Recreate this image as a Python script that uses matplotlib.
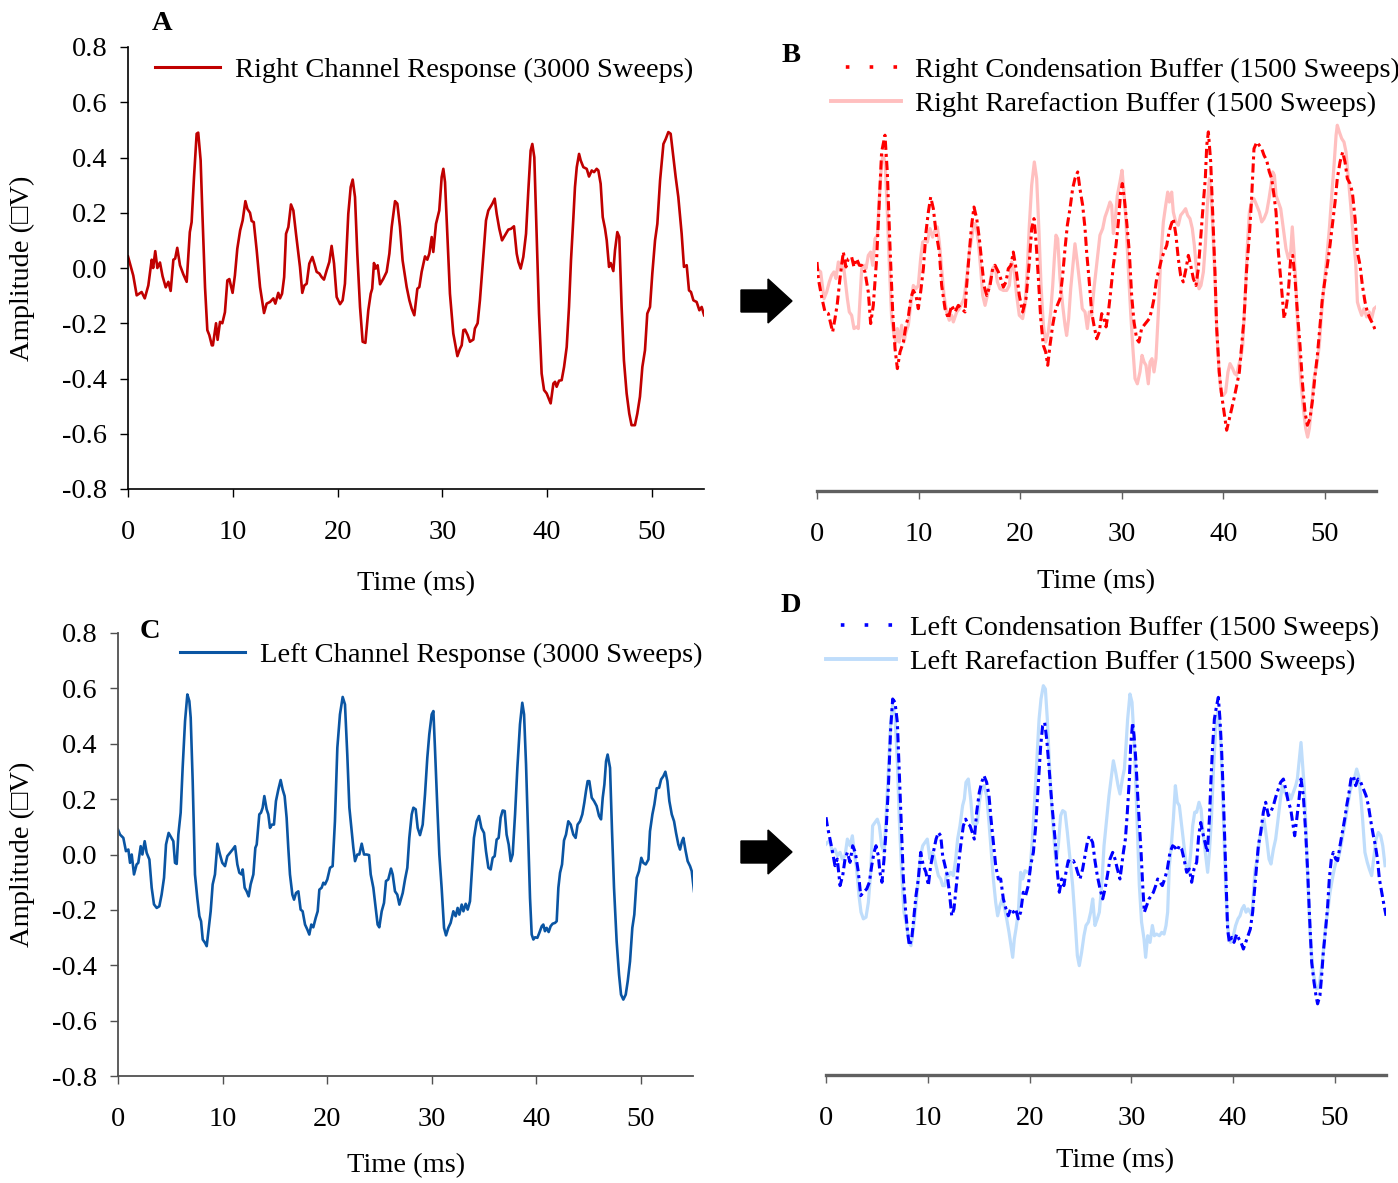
import numpy as np
import matplotlib
matplotlib.use("Agg")
import matplotlib.pyplot as plt
from matplotlib.lines import Line2D
from matplotlib.patches import Polygon

plt.rcParams['font.family'] = ['Liberation Serif', 'DejaVu Sans']

# ---------------- data (time ms, amplitude uV) ----------------
right_avg = [(0,0.042),(0.5,-0.027),(0.83,-0.099),(1.3,-0.087),(1.6,-0.11),(1.94,-0.063),(2.26,0.03),(2.4,0.0),(2.6,0.061),(2.8,0.0),(3.05,0.02),(3.3,-0.03),(3.6,-0.07),(3.85,-0.05),(4.07,-0.083),(4.33,0.03),(4.5,0.034),(4.7,0.073),(4.96,0.01),(5.28,-0.023),(5.6,-0.05),(5.9,0.13),(6.07,0.166),(6.3,0.33),(6.55,0.486),(6.7,0.49),(6.93,0.39),(7.1,0.196),(7.35,-0.07),(7.57,-0.225),(7.76,-0.243),(8.0,-0.28),(8.1,-0.28),(8.4,-0.2),(8.55,-0.26),(8.78,-0.195),(9.0,-0.2),(9.25,-0.16),(9.48,-0.045),(9.67,-0.04),(9.98,-0.09),(10.2,-0.027),(10.43,0.07),(10.7,0.136),(10.94,0.172),(11.2,0.242),(11.39,0.214),(11.64,0.2),(11.8,0.17),(12.0,0.166),(12.28,0.064),(12.6,-0.069),(12.98,-0.163),(13.23,-0.129),(13.55,-0.123),(13.87,-0.11),(14.06,-0.129),(14.34,-0.09),(14.5,-0.11),(14.7,-0.093),(14.9,-0.033),(15.08,0.124),(15.3,0.148),(15.55,0.23),(15.78,0.208),(16.03,0.124),(16.41,0.004),(16.63,-0.09),(16.83,-0.063),(17.05,-0.057),(17.3,0.016),(17.59,0.04),(17.78,0.016),(18.0,-0.014),(18.26,-0.02),(18.48,-0.033),(18.7,-0.042),(18.96,-0.008),(19.21,0.022),(19.43,0.08),(19.66,0.016),(19.91,-0.105),(20.23,-0.131),(20.48,-0.117),(20.7,-0.057),(21.02,0.196),(21.25,0.293),(21.44,0.32),(21.66,0.257),(21.88,0.052),(22.14,-0.141),(22.39,-0.267),(22.65,-0.271),(22.93,-0.153),(23.16,-0.093),(23.3,-0.075),(23.47,0.018),(23.63,-0.002),(23.82,0.01),(24.05,-0.059),(24.36,-0.039),(24.68,-0.014),(24.94,0.052),(25.16,0.148),(25.48,0.242),(25.7,0.233),(25.95,0.15),(26.2,0.028),(26.59,-0.069),(26.85,-0.117),(27.07,-0.147),(27.32,-0.171),(27.61,-0.075),(27.8,-0.069),(28.02,-0.014),(28.34,0.042),(28.56,0.03),(28.75,0.052),(28.98,0.112),(29.13,0.058),(29.39,0.16),(29.7,0.208),(29.93,0.329),(30.09,0.359),(30.25,0.311),(30.47,0.124),(30.72,-0.093),(31.04,-0.237),(31.43,-0.319),(31.68,-0.292),(31.84,-0.28),(32.0,-0.225),(32.16,-0.223),(32.41,-0.243),(32.63,-0.267),(32.95,-0.259),(33.1,-0.219),(33.36,-0.2),(33.58,-0.117),(33.78,-0.02),(33.97,0.076),(34.16,0.172),(34.38,0.208),(34.61,0.223),(34.77,0.233),(34.99,0.251),(35.18,0.196),(35.43,0.142),(35.69,0.1),(35.97,0.118),(36.29,0.139),(36.55,0.142),(36.83,0.151),(37.09,0.052),(37.25,0.022),(37.47,-0.002),(37.72,0.04),(37.98,0.124),(38.2,0.281),(38.42,0.425),(38.58,0.449),(38.77,0.401),(38.99,0.124),(39.22,-0.165),(39.47,-0.382),(39.7,-0.442),(39.95,-0.454),(40.14,-0.472),(40.33,-0.49),(40.59,-0.418),(40.75,-0.412),(40.9,-0.43),(41.13,-0.408),(41.38,-0.406),(41.61,-0.358),(41.86,-0.286),(42.08,-0.141),(42.27,0.028),(42.5,0.184),(42.65,0.293),(42.82,0.365),(43.04,0.413),(43.2,0.389),(43.45,0.365),(43.77,0.359),(43.99,0.331),(44.25,0.353),(44.47,0.347),(44.72,0.359),(44.88,0.353),(45.1,0.305),(45.3,0.184),(45.52,0.142),(45.68,0.1),(45.9,0.004),(46.06,0.018),(46.31,-0.011),(46.47,0.064),(46.69,0.13),(46.88,0.112),(47.1,-0.141),(47.32,-0.334),(47.58,-0.454),(47.83,-0.527),(48.05,-0.569),(48.37,-0.569),(48.6,-0.527),(48.85,-0.466),(49.08,-0.358),(49.33,-0.298),(49.55,-0.165),(49.81,-0.141),(50.03,-0.02),(50.29,0.1),(50.51,0.16),(50.77,0.317),(51.09,0.449),(51.31,0.467),(51.56,0.492),(51.78,0.486),(52.04,0.401),(52.26,0.329),(52.51,0.257),(52.83,0.124),(53.05,0.004),(53.31,0.01),(53.53,-0.081),(53.72,-0.087),(53.95,-0.117),(54.26,-0.123),(54.52,-0.153),(54.74,-0.141),(54.97,-0.171)]

right_cond = [(0,0.029),(0.13,-0.031),(0.46,-0.098),(0.79,-0.152),(1.12,-0.158),(1.54,-0.224),(1.77,-0.176),(2.0,-0.122),(2.26,-0.031),(2.59,0.065),(2.85,0.011),(3.08,0.041),(3.41,0.047),(3.64,0.011),(3.9,0.041),(4.17,0.017),(4.4,0.017),(4.72,-0.007),(5.05,-0.08),(5.28,-0.194),(5.54,-0.128),(5.87,0.041),(6.13,0.246),(6.36,0.427),(6.69,0.488),(6.92,0.355),(7.18,0.089),(7.45,-0.152),(7.68,-0.285),(7.91,-0.357),(8.17,-0.297),(8.5,-0.261),(8.76,-0.2),(8.99,-0.17),(9.22,-0.104),(9.48,-0.074),(9.74,-0.092),(9.97,-0.14),(10.2,-0.08),(10.47,0.005),(10.73,0.138),(10.96,0.21),(11.19,0.264),(11.45,0.222),(11.71,0.138),(12.04,0.065),(12.27,-0.056),(12.6,-0.14),(12.93,-0.176),(13.25,-0.128),(13.58,-0.152),(13.91,-0.128),(14.24,-0.14),(14.57,-0.152),(14.73,-0.056),(14.99,0.065),(15.22,0.162),(15.45,0.228),(15.72,0.186),(15.98,0.113),(16.21,0.029),(16.44,-0.056),(16.7,-0.092),(17.03,-0.056),(17.29,0.005),(17.52,0.017),(17.85,-0.007),(18.08,-0.031),(18.34,-0.062),(18.6,-0.043),(18.83,0.005),(19.09,0.017),(19.32,0.065),(19.59,0.005),(19.91,-0.092),(20.24,-0.152),(20.57,-0.104),(20.9,0.029),(21.13,0.15),(21.36,0.186),(21.56,0.101),(21.79,-0.031),(22.02,-0.176),(22.28,-0.273),(22.51,-0.297),(22.71,-0.345),(22.93,-0.273),(23.2,-0.2),(23.43,-0.152),(23.65,-0.128),(23.92,-0.104),(24.18,-0.019),(24.41,0.077),(24.64,0.162),(24.9,0.222),(25.16,0.294),(25.39,0.331),(25.66,0.355),(25.88,0.294),(26.15,0.234),(26.38,0.15),(26.54,0.065),(26.77,-0.031),(27.03,-0.152),(27.26,-0.2),(27.53,-0.249),(27.79,-0.224),(28.02,-0.158),(28.25,-0.176),(28.45,-0.206),(28.68,-0.152),(28.9,-0.08),(29.17,0.017),(29.43,0.089),(29.66,0.174),(29.89,0.282),(30.05,0.313),(30.25,0.258),(30.48,0.174),(30.74,0.065),(30.97,-0.092),(31.2,-0.188),(31.46,-0.249),(31.69,-0.261),(31.95,-0.212),(32.19,-0.2),(32.45,-0.188),(32.71,-0.176),(32.94,-0.146),(33.17,-0.104),(33.43,-0.031),(33.69,0.005),(33.92,0.041),(34.15,0.065),(34.42,0.089),(34.65,0.138),(34.84,0.162),(35.07,0.186),(35.33,0.126),(35.56,0.041),(35.79,-0.019),(36.05,-0.043),(36.32,0.005),(36.55,0.053),(36.78,0.017),(37.04,-0.031),(37.3,-0.056),(37.53,0.005),(37.76,0.113),(38.03,0.246),(38.22,0.331),(38.36,0.451),(38.52,0.5),(38.75,0.391),(38.94,0.21),(39.17,-0.007),(39.34,-0.212),(39.59,-0.369),(39.83,-0.454),(40.06,-0.514),(40.32,-0.58),(40.59,-0.538),(40.81,-0.502),(41.04,-0.466),(41.31,-0.418),(41.57,-0.369),(41.8,-0.273),(42.03,-0.176),(42.29,0.005),(42.56,0.126),(42.79,0.27),(43.01,0.439),(43.28,0.463),(43.54,0.451),(43.77,0.439),(44.0,0.415),(44.26,0.397),(44.52,0.355),(44.75,0.331),(44.98,0.27),(45.18,0.21),(45.41,0.065),(45.64,-0.031),(45.84,-0.116),(45.97,-0.176),(46.16,-0.14),(46.39,-0.08),(46.62,0.041),(46.82,0.053),(47.05,-0.031),(47.28,-0.152),(47.54,-0.273),(47.8,-0.418),(48.03,-0.514),(48.26,-0.562),(48.52,-0.538),(48.79,-0.466),(49.02,-0.381),(49.25,-0.309),(49.51,-0.2),(49.74,-0.104),(49.97,-0.043),(50.23,0.017),(50.49,0.089),(50.76,0.174),(50.99,0.246),(51.21,0.331),(51.48,0.391),(51.74,0.427),(51.97,0.391),(52.2,0.331),(52.46,0.313),(52.69,0.282),(52.96,0.186),(53.19,0.065),(53.45,0.017),(53.68,-0.056),(53.94,-0.116),(54.17,-0.152),(54.43,-0.176),(54.69,-0.194),(55.02,-0.224)]

right_rare = [(0,0.005),(0.36,-0.007),(0.69,-0.104),(0.95,-0.08),(1.21,-0.043),(1.44,-0.019),(1.67,-0.007),(1.87,-0.031),(2.1,0.029),(2.33,0.005),(2.53,0.041),(2.76,-0.031),(2.99,-0.104),(3.18,-0.152),(3.41,-0.164),(3.64,-0.212),(3.9,-0.206),(4.07,-0.212),(4.23,-0.104),(4.4,0.005),(4.63,0.017),(4.82,0.005),(5.05,0.053),(5.28,0.065),(5.48,0.017),(5.71,0.113),(5.94,0.126),(6.13,0.258),(6.36,0.391),(6.53,0.415),(6.72,0.379),(6.92,0.21),(7.12,0.017),(7.35,-0.176),(7.58,-0.237),(7.78,-0.261),(7.91,-0.212),(8.1,-0.261),(8.33,-0.2),(8.56,-0.261),(8.76,-0.224),(8.99,-0.2),(9.22,-0.128),(9.48,-0.056),(9.74,-0.068),(9.97,-0.056),(10.2,0.041),(10.4,0.101),(10.63,0.107),(10.86,0.101),(11.12,0.15),(11.38,0.119),(11.61,0.144),(11.84,0.156),(12.04,0.101),(12.27,0.005),(12.5,-0.092),(12.76,-0.152),(13.02,-0.182),(13.25,-0.164),(13.42,-0.188),(13.75,-0.152),(14.01,-0.14),(14.24,-0.122),(14.47,-0.104),(14.73,-0.031),(14.99,0.065),(15.22,0.113),(15.45,0.168),(15.65,0.162),(15.88,0.101),(16.11,0.005),(16.31,-0.092),(16.54,-0.128),(16.77,-0.092),(17.03,-0.043),(17.29,0.005),(17.52,0.017),(17.75,-0.043),(18.01,-0.068),(18.34,-0.074),(18.67,-0.074),(18.93,-0.056),(19.16,0.029),(19.39,0.005),(19.65,-0.092),(19.91,-0.164),(20.24,-0.176),(20.47,-0.128),(20.7,0.005),(20.9,0.162),(21.13,0.307),(21.39,0.391),(21.62,0.331),(21.85,0.138),(22.05,-0.056),(22.28,-0.2),(22.51,-0.261),(22.77,-0.224),(23.0,-0.152),(23.2,-0.056),(23.36,0.041),(23.52,0.126),(23.69,0.113),(23.92,-0.031),(24.18,-0.128),(24.41,-0.2),(24.57,-0.237),(24.77,-0.176),(24.97,-0.068),(25.16,0.005),(25.39,0.095),(25.62,0.029),(25.88,-0.056),(26.11,-0.14),(26.38,-0.152),(26.61,-0.212),(26.8,-0.152),(27.03,-0.164),(27.26,-0.068),(27.52,0.017),(27.85,0.126),(28.12,0.15),(28.35,0.192),(28.58,0.216),(28.84,0.246),(29.0,0.234),(29.17,0.132),(29.33,0.174),(29.56,0.27),(29.82,0.319),(30.02,0.361),(30.22,0.282),(30.41,0.174),(30.64,0.005),(30.87,-0.152),(31.07,-0.273),(31.3,-0.393),(31.53,-0.412),(31.79,-0.369),(31.99,-0.309),(32.19,-0.333),(32.38,-0.345),(32.61,-0.412),(32.78,-0.333),(32.97,-0.321),(33.17,-0.369),(33.36,-0.321),(33.6,-0.152),(33.83,0.041),(34.09,0.174),(34.32,0.234),(34.52,0.282),(34.68,0.246),(34.91,0.282),(35.07,0.21),(35.3,0.174),(35.56,0.162),(35.79,0.198),(36.05,0.21),(36.28,0.222),(36.48,0.198),(36.71,0.186),(36.94,0.15),(37.14,0.089),(37.37,-0.007),(37.6,-0.068),(37.79,-0.056),(38.03,-0.007),(38.22,0.089),(38.42,0.234),(38.62,0.331),(38.78,0.282),(38.94,0.162),(39.17,-0.031),(39.34,-0.212),(39.57,-0.369),(39.76,-0.442),(39.99,-0.454),(40.22,-0.442),(40.45,-0.369),(40.65,-0.339),(40.91,-0.357),(41.11,-0.375),(41.31,-0.381),(41.5,-0.345),(41.7,-0.321),(41.9,-0.273),(42.13,-0.104),(42.36,0.089),(42.56,0.21),(42.79,0.246),(43.01,0.258),(43.28,0.234),(43.54,0.21),(43.77,0.174),(44.0,0.186),(44.26,0.21),(44.49,0.258),(44.69,0.307),(44.85,0.355),(45.02,0.343),(45.18,0.27),(45.41,0.246),(45.64,0.222),(45.9,0.15),(46.16,0.077),(46.39,0.041),(46.62,0.065),(46.78,0.156),(46.95,0.065),(47.14,-0.056),(47.37,-0.249),(47.6,-0.393),(47.87,-0.502),(48.1,-0.574),(48.29,-0.605),(48.46,-0.574),(48.69,-0.49),(48.92,-0.393),(49.18,-0.345),(49.44,-0.273),(49.67,-0.152),(49.9,-0.056),(50.16,0.041),(50.43,0.15),(50.66,0.27),(50.89,0.379),(51.09,0.488),(51.21,0.524),(51.41,0.5),(51.64,0.476),(51.87,0.463),(52.07,0.427),(52.3,0.331),(52.53,0.234),(52.79,0.113),(53.02,0.029),(53.19,-0.116),(53.38,-0.14),(53.61,-0.164),(53.84,-0.14),(54.1,-0.17),(54.36,-0.152),(54.59,-0.176),(54.82,-0.14),(55.02,-0.134)]

left_avg = [(0,0.09),(0.19,0.072),(0.51,0.06),(0.76,0.012),(0.99,0.018),(1.15,-0.03),(1.31,0.0),(1.53,-0.072),(1.78,-0.036),(1.94,-0.03),(2.17,0.03),(2.33,0.0),(2.55,0.048),(2.74,0.006),(3.0,-0.018),(3.22,-0.12),(3.44,-0.18),(3.7,-0.193),(3.95,-0.187),(4.17,-0.145),(4.4,-0.084),(4.59,0.036),(4.84,0.078),(5.07,0.063),(5.29,0.048),(5.45,-0.03),(5.61,-0.034),(5.77,0.072),(5.99,0.151),(6.18,0.313),(6.41,0.482),(6.63,0.578),(6.82,0.554),(6.95,0.494),(7.14,0.265),(7.36,-0.072),(7.58,-0.157),(7.78,-0.223),(7.94,-0.241),(8.1,-0.307),(8.32,-0.319),(8.48,-0.331),(8.64,-0.277),(8.86,-0.205),(9.05,-0.108),(9.27,-0.072),(9.5,0.039),(9.75,0.0),(9.97,-0.03),(10.23,-0.042),(10.45,-0.006),(10.71,0.006),(10.96,0.018),(11.19,0.03),(11.41,-0.036),(11.6,-0.066),(11.82,-0.072),(11.92,-0.054),(12.11,-0.12),(12.3,-0.133),(12.49,-0.151),(12.68,-0.108),(12.94,-0.072),(13.13,0.024),(13.26,0.036),(13.51,0.145),(13.67,0.151),(13.83,0.169),(13.99,0.211),(14.21,0.163),(14.37,0.145),(14.53,0.096),(14.72,0.108),(14.91,0.108),(15.1,0.193),(15.33,0.235),(15.55,0.269),(15.74,0.235),(15.93,0.211),(16.12,0.133),(16.28,0.024),(16.44,-0.072),(16.67,-0.145),(16.83,-0.163),(17.02,-0.139),(17.24,-0.133),(17.46,-0.199),(17.65,-0.205),(17.88,-0.253),(18.1,-0.271),(18.29,-0.289),(18.48,-0.253),(18.67,-0.263),(18.9,-0.229),(19.09,-0.205),(19.25,-0.127),(19.47,-0.12),(19.63,-0.102),(19.79,-0.108),(20.01,-0.09),(20.27,-0.048),(20.52,-0.042),(20.74,0.12),(20.97,0.386),(21.22,0.506),(21.48,0.569),(21.7,0.542),(21.92,0.361),(22.12,0.169),(22.34,0.084),(22.5,0.024),(22.66,-0.024),(22.88,0.0),(23.07,0.0),(23.3,0.039),(23.52,0.0),(23.77,0.0),(24.0,-0.002),(24.16,-0.072),(24.41,-0.12),(24.63,-0.193),(24.82,-0.253),(24.98,-0.263),(25.21,-0.205),(25.43,-0.175),(25.62,-0.096),(25.84,-0.09),(26.1,-0.051),(26.26,-0.072),(26.48,-0.133),(26.7,-0.145),(26.9,-0.181),(27.22,-0.139),(27.44,-0.09),(27.66,-0.048),(27.85,0.06),(28.08,0.145),(28.24,0.169),(28.46,0.163),(28.65,0.096),(28.87,0.07),(29.13,0.108),(29.35,0.217),(29.57,0.349),(29.76,0.434),(29.99,0.506),(30.15,0.518),(30.3,0.386),(30.53,0.169),(30.72,0.0),(30.94,-0.12),(31.17,-0.265),(31.36,-0.292),(31.58,-0.265),(31.8,-0.247),(32.06,-0.205),(32.28,-0.223),(32.47,-0.193),(32.63,-0.217),(32.86,-0.181),(33.02,-0.205),(33.24,-0.178),(33.43,-0.199),(33.65,-0.169),(33.81,-0.072),(34.03,0.06),(34.29,0.12),(34.51,0.139),(34.74,0.096),(34.99,0.078),(35.18,0.012),(35.41,-0.048),(35.63,-0.054),(35.82,-0.012),(36.01,-0.006),(36.2,0.054),(36.39,0.06),(36.58,0.133),(36.77,0.159),(36.97,0.157),(37.15,0.072),(37.35,0.036),(37.54,-0.024),(37.73,0.0),(37.96,0.145),(38.18,0.313),(38.43,0.47),(38.65,0.548),(38.82,0.506),(39.01,0.325),(39.23,0.048),(39.39,-0.157),(39.55,-0.289),(39.71,-0.307),(39.87,-0.299),(40.09,-0.301),(40.28,-0.283),(40.51,-0.259),(40.66,-0.253),(40.82,-0.277),(40.98,-0.265),(41.17,-0.28),(41.36,-0.259),(41.55,-0.25),(41.78,-0.247),(41.94,-0.241),(42.1,-0.12),(42.26,-0.066),(42.45,-0.036),(42.64,0.051),(42.83,0.072),(43.05,0.12),(43.28,0.108),(43.53,0.072),(43.75,0.06),(43.94,0.108),(44.17,0.12),(44.39,0.145),(44.58,0.187),(44.74,0.229),(44.9,0.265),(45.06,0.265),(45.29,0.205),(45.51,0.193),(45.76,0.175),(45.99,0.139),(46.18,0.127),(46.34,0.205),(46.5,0.253),(46.66,0.337),(46.81,0.361),(47.04,0.313),(47.23,0.084),(47.42,-0.12),(47.67,-0.313),(47.9,-0.434),(48.09,-0.506),(48.31,-0.524),(48.54,-0.506),(48.73,-0.458),(48.95,-0.386),(49.17,-0.265),(49.36,-0.217),(49.59,-0.084),(49.81,-0.06),(50.03,-0.012),(50.22,-0.03),(50.45,-0.036),(50.71,-0.018),(50.86,0.084),(51.09,0.145),(51.28,0.181),(51.5,0.239),(51.73,0.241),(51.92,0.271),(52.14,0.283),(52.33,0.299),(52.52,0.265),(52.71,0.193),(52.94,0.145),(53.16,0.12),(53.35,0.078),(53.57,0.036),(53.73,0.018),(53.92,0.048),(54.05,0.06),(54.27,0.012),(54.46,-0.024),(54.69,-0.042),(54.85,-0.06),(55.07,-0.133)]

left_cond = [(0,0.131),(0.13,0.1),(0.39,0.052),(0.65,0.004),(0.88,-0.044),(1.11,-0.02),(1.38,-0.116),(1.64,-0.08),(1.87,-0.02),(2.1,0.004),(2.36,-0.032),(2.62,0.028),(2.88,0.004),(3.18,-0.068),(3.41,-0.152),(3.67,-0.14),(4.0,-0.128),(4.26,-0.104),(4.49,-0.044),(4.72,0.004),(4.91,0.028),(5.14,-0.008),(5.3,-0.068),(5.5,-0.104),(5.7,-0.02),(5.89,0.076),(6.12,0.233),(6.35,0.449),(6.55,0.558),(6.78,0.546),(7.01,0.473),(7.2,0.293),(7.43,0.076),(7.6,-0.092),(7.83,-0.212),(8.02,-0.285),(8.19,-0.333),(8.42,-0.309),(8.58,-0.248),(8.84,-0.152),(9.07,-0.092),(9.3,0.004),(9.56,-0.044),(9.82,-0.068),(10.05,-0.116),(10.28,-0.044),(10.54,0.004),(10.81,0.052),(11.04,0.076),(11.27,0.064),(11.46,-0.008),(11.69,-0.044),(11.92,-0.08),(12.12,-0.14),(12.35,-0.225),(12.57,-0.2),(12.77,-0.128),(13.0,-0.044),(13.23,0.028),(13.49,0.1),(13.72,0.124),(13.92,0.107),(14.15,0.1),(14.37,0.076),(14.57,0.052),(14.8,0.149),(15.06,0.221),(15.29,0.257),(15.52,0.281),(15.78,0.257),(16.01,0.209),(16.21,0.124),(16.44,0.04),(16.67,-0.044),(16.93,-0.092),(17.16,-0.092),(17.42,-0.164),(17.68,-0.2),(17.91,-0.225),(18.14,-0.2),(18.4,-0.212),(18.63,-0.2),(18.89,-0.236),(19.12,-0.212),(19.38,-0.14),(19.61,-0.152),(19.87,-0.116),(20.1,-0.044),(20.37,0.004),(20.6,0.1),(20.83,0.233),(21.09,0.389),(21.28,0.461),(21.48,0.473),(21.68,0.413),(21.87,0.329),(22.07,0.233),(22.26,0.149),(22.5,0.052),(22.73,-0.068),(22.92,-0.14),(23.15,-0.092),(23.37,-0.116),(23.57,-0.068),(23.8,-0.026),(24.03,-0.032),(24.3,-0.026),(24.53,-0.044),(24.72,-0.068),(24.95,-0.092),(25.21,-0.056),(25.44,-0.008),(25.67,0.04),(25.87,0.064),(26.19,0.04),(26.42,-0.026),(26.65,-0.08),(26.92,-0.128),(27.18,-0.164),(27.41,-0.128),(27.64,-0.08),(27.9,-0.02),(28.16,0.004),(28.39,-0.02),(28.62,-0.056),(28.88,-0.092),(29.05,-0.044),(29.21,0.004),(29.41,0.052),(29.6,0.149),(29.8,0.269),(29.93,0.389),(30.12,0.473),(30.26,0.425),(30.45,0.329),(30.62,0.209),(30.78,0.112),(30.95,0.004),(31.11,-0.116),(31.27,-0.212),(31.5,-0.188),(31.73,-0.164),(31.96,-0.152),(32.16,-0.14),(32.39,-0.116),(32.58,-0.092),(32.81,-0.104),(33.04,-0.116),(33.27,-0.092),(33.53,-0.056),(33.79,0.004),(34.05,0.028),(34.28,0.022),(34.51,0.01),(34.71,0.028),(34.94,0.016),(35.17,-0.02),(35.43,-0.068),(35.69,-0.056),(35.92,-0.104),(36.15,-0.056),(36.41,-0.032),(36.61,0.064),(36.81,0.112),(37.0,0.076),(37.23,0.04),(37.46,0.004),(37.66,0.124),(37.82,0.269),(37.98,0.389),(38.15,0.485),(38.37,0.534),(38.54,0.564),(38.7,0.485),(38.87,0.365),(39.03,0.209),(39.19,0.028),(39.36,-0.152),(39.45,-0.273),(39.62,-0.321),(39.85,-0.303),(40.08,-0.321),(40.34,-0.291),(40.57,-0.309),(40.77,-0.321),(41.0,-0.345),(41.23,-0.321),(41.46,-0.297),(41.68,-0.273),(41.91,-0.212),(42.08,-0.14),(42.24,-0.068),(42.47,0.028),(42.7,0.076),(42.96,0.149),(43.19,0.185),(43.45,0.137),(43.68,0.149),(43.95,0.173),(44.17,0.203),(44.43,0.233),(44.66,0.257),(44.93,0.269),(45.15,0.233),(45.42,0.185),(45.65,0.161),(45.84,0.112),(46.04,0.064),(46.24,0.124),(46.47,0.197),(46.66,0.269),(46.89,0.209),(47.12,0.076),(47.32,-0.068),(47.48,-0.212),(47.71,-0.393),(47.94,-0.465),(48.13,-0.513),(48.29,-0.543),(48.52,-0.513),(48.69,-0.441),(48.85,-0.357),(49.08,-0.273),(49.28,-0.188),(49.44,-0.092),(49.64,-0.02),(49.83,0.004),(50.07,-0.02),(50.26,-0.026),(50.49,0.028),(50.72,0.076),(50.95,0.124),(51.15,0.173),(51.38,0.221),(51.57,0.269),(51.8,0.281),(52.03,0.245),(52.26,0.269),(52.53,0.257),(52.79,0.233),(53.05,0.209),(53.28,0.173),(53.54,0.112),(53.77,0.064),(53.97,0.028),(54.17,-0.02),(54.36,-0.092),(54.59,-0.14),(54.82,-0.188),(55.02,-0.225)]

left_rare = [(0,0.034),(0.13,0.04),(0.39,0.046),(0.62,0.004),(0.88,0.016),(1.11,-0.008),(1.38,0.004),(1.6,-0.02),(1.87,-0.008),(2.1,0.052),(2.36,0.028),(2.59,0.064),(2.78,0.004),(3.01,-0.056),(3.24,-0.152),(3.44,-0.212),(3.67,-0.236),(3.93,-0.23),(4.16,-0.177),(4.39,-0.068),(4.58,0.1),(4.81,0.112),(5.04,0.124),(5.24,0.1),(5.47,0.028),(5.7,0.004),(5.89,0.124),(6.12,0.293),(6.35,0.473),(6.55,0.534),(6.78,0.497),(7.01,0.329),(7.2,0.124),(7.43,-0.068),(7.66,-0.212),(7.92,-0.26),(8.15,-0.321),(8.35,-0.333),(8.58,-0.273),(8.84,-0.188),(9.07,-0.092),(9.3,-0.008),(9.5,0.028),(9.73,0.04),(9.95,0.052),(10.21,-0.02),(10.41,0.004),(10.61,-0.008),(10.81,-0.044),(11.04,-0.08),(11.27,-0.092),(11.46,-0.116),(11.69,-0.116),(11.85,-0.068),(12.05,-0.08),(12.25,-0.068),(12.51,-0.08),(12.74,-0.02),(12.93,0.052),(13.16,0.1),(13.42,0.173),(13.59,0.197),(13.75,0.257),(13.98,0.269),(14.21,0.197),(14.41,0.112),(14.64,0.1),(14.87,0.112),(15.06,0.185),(15.29,0.233),(15.52,0.245),(15.78,0.209),(16.01,0.112),(16.21,0.016),(16.44,-0.092),(16.67,-0.177),(16.86,-0.225),(17.09,-0.188),(17.32,-0.164),(17.55,-0.2),(17.75,-0.236),(17.98,-0.285),(18.17,-0.333),(18.34,-0.375),(18.5,-0.309),(18.66,-0.273),(18.89,-0.212),(19.12,-0.068),(19.32,-0.092),(19.55,-0.062),(19.78,-0.068),(20.04,-0.062),(20.27,0.052),(20.47,0.173),(20.7,0.329),(20.93,0.485),(21.12,0.558),(21.35,0.606),(21.55,0.594),(21.74,0.485),(21.94,0.329),(22.17,0.173),(22.4,0.052),(22.59,-0.032),(22.82,0.028),(23.05,0.137),(23.25,0.155),(23.48,0.149),(23.71,0.076),(23.97,-0.02),(24.23,-0.116),(24.46,-0.236),(24.69,-0.369),(24.88,-0.405),(25.11,-0.357),(25.34,-0.297),(25.54,-0.26),(25.77,-0.248),(26.0,-0.212),(26.2,-0.164),(26.42,-0.26),(26.65,-0.236),(26.85,-0.212),(27.08,-0.116),(27.31,0.028),(27.57,0.124),(27.8,0.209),(28.0,0.269),(28.23,0.335),(28.46,0.293),(28.69,0.245),(28.88,0.215),(29.11,0.269),(29.31,0.305),(29.47,0.389),(29.63,0.485),(29.86,0.576),(30.06,0.546),(30.26,0.413),(30.45,0.233),(30.62,0.052),(30.78,-0.116),(31.0,-0.248),(31.24,-0.309),(31.4,-0.375),(31.6,-0.297),(31.83,-0.321),(32.06,-0.26),(32.25,-0.297),(32.48,-0.291),(32.75,-0.297),(32.98,-0.285),(33.21,-0.291),(33.4,-0.26),(33.56,-0.212),(33.73,-0.044),(33.92,0.028),(34.12,0.124),(34.32,0.245),(34.51,0.185),(34.71,0.173),(34.94,0.1),(35.17,0.028),(35.43,-0.056),(35.63,-0.068),(35.83,0.004),(36.02,0.1),(36.22,0.149),(36.41,0.149),(36.64,0.185),(36.84,0.161),(37.07,0.064),(37.3,-0.008),(37.49,-0.068),(37.66,0.004),(37.86,0.124),(38.05,0.293),(38.28,0.449),(38.47,0.51),(38.64,0.473),(38.8,0.389),(38.97,0.209),(39.13,0.028),(39.29,-0.152),(39.52,-0.285),(39.75,-0.321),(40.01,-0.297),(40.24,-0.26),(40.47,-0.236),(40.67,-0.225),(40.87,-0.2),(41.06,-0.188),(41.26,-0.212),(41.46,-0.2),(41.66,-0.212),(41.85,-0.225),(41.99,-0.14),(42.15,-0.056),(42.38,-0.02),(42.58,0.052),(42.8,0.088),(43.03,0.124),(43.29,0.052),(43.52,-0.02),(43.71,-0.038),(43.95,0.016),(44.17,0.052),(44.37,0.112),(44.6,0.185),(44.82,0.245),(45.06,0.221),(45.25,0.209),(45.48,0.215),(45.68,0.197),(45.91,0.221),(46.14,0.245),(46.3,0.269),(46.5,0.341),(46.66,0.401),(46.83,0.317),(46.99,0.233),(47.15,0.088),(47.32,-0.092),(47.55,-0.285),(47.78,-0.405),(47.97,-0.453),(48.2,-0.489),(48.43,-0.483),(48.63,-0.429),(48.85,-0.357),(49.08,-0.26),(49.28,-0.212),(49.51,-0.14),(49.74,-0.092),(49.93,-0.056),(50.16,-0.02),(50.39,-0.008),(50.59,0.028),(50.81,0.076),(51.04,0.124),(51.24,0.173),(51.47,0.221),(51.7,0.257),(51.89,0.269),(52.13,0.305),(52.32,0.281),(52.52,0.209),(52.71,0.124),(52.94,0.004),(53.17,-0.032),(53.37,-0.056),(53.6,-0.08),(53.83,-0.008),(54.03,0.052),(54.26,0.076),(54.49,0.064),(54.69,0.028),(54.92,-0.044)]

x_ticks = [0, 10, 20, 30, 40, 50]
y_ticks = [-0.8, -0.6, -0.4, -0.2, 0.0, 0.2, 0.4, 0.6, 0.8]
y_tick_labels = ["-0.8", "-0.6", "-0.4", "-0.2", "0.0", "0.2", "0.4", "0.6", "0.8"]

label_right_avg = "Right Channel Response (3000 Sweeps)"
label_right_cond = "Right Condensation Buffer (1500 Sweeps)"
label_right_rare = "Right Rarefaction Buffer (1500 Sweeps)"
label_left_avg = "Left Channel Response (3000 Sweeps)"
label_left_cond = "Left Condensation Buffer (1500 Sweeps)"
label_left_rare = "Left Rarefaction Buffer (1500 Sweeps)"
x_label = "Time (ms)"
y_label = "Amplitude (\u25a1V)"

# ---------------- figure ----------------
W, H = 1398, 1183
fig = plt.figure(figsize=(W / 100, H / 100), dpi=100)
FS = 20.5

def px_axes(left, right, top, bottom):
    return fig.add_axes([left / W, 1 - bottom / H, (right - left) / W, (bottom - top) / H])

def xy(series):
    arr = np.array(series, dtype=float)
    return arr[:, 0], arr[:, 1]

def style_axes(ax, show_y, spine_color, spine_lw):
    ax.set_xlim(0, 55)
    ax.set_ylim(-0.8, 0.8)
    ax.set_facecolor('none')
    for s in ['top', 'right']:
        ax.spines[s].set_visible(False)
    ax.spines['bottom'].set_color(spine_color)
    ax.spines['bottom'].set_linewidth(spine_lw)
    ax.set_xticks(x_ticks)
    ax.set_xticklabels([str(v) for v in x_ticks])
    ax.tick_params(axis='x', direction='out', length=6, width=1.0, colors=spine_color,
                   labelcolor='black', labelsize=FS, pad=16.5)
    if show_y:
        ax.spines['left'].set_color(spine_color)
        ax.spines['left'].set_linewidth(spine_lw)
        ax.set_yticks(y_ticks)
        ax.set_yticklabels(y_tick_labels)
        ax.tick_params(axis='y', direction='out', length=6, width=1.0, colors=spine_color,
                       labelcolor='black', labelsize=FS, pad=9)
    else:
        ax.spines['left'].set_visible(False)
        ax.set_yticks([])
    ax.set_xlabel(x_label, fontsize=FS)
    ax.xaxis.label.set_va('center')

axA = px_axes(128, 128 + 55 * 10.48, 47, 489)
axB = px_axes(817, 817 + 55 * 10.16, 49, 491)
axC = px_axes(118, 118 + 55 * 10.46, 633, 1076)
axD = px_axes(826, 826 + 55 * 10.18, 632, 1075)

style_axes(axA, True, 'black', 1.2)
style_axes(axB, False, '#606060', 2.4)
style_axes(axC, True, '#505050', 1.3)
style_axes(axD, False, '#606060', 2.4)

dashdot = (0, (3.0, 1.3, 1.0, 1.3))

# A
t, v = xy(right_avg)
axA.plot(t, v, color='#C00000', lw=1.9)
# B
t, v = xy(right_rare)
axB.plot(t, v, color='#FFBFBF', lw=2.3)
t, v = xy(right_cond)
axB.plot(t, v, color='#FF0000', lw=2.2, linestyle=dashdot)
# C
t, v = xy(left_avg)
axC.plot(t, v, color='#0A55A3', lw=1.9)
# D
t, v = xy(left_rare)
axD.plot(t, v, color='#BFDDFB', lw=2.3)
t, v = xy(left_cond)
axD.plot(t, v, color='#0000FF', lw=2.2, linestyle=dashdot)

# axis labels
axA.xaxis.set_label_coords(0.5, -0.215)
axB.xaxis.set_label_coords(0.5, -0.204)
axC.xaxis.set_label_coords(0.5, -0.203)
axD.xaxis.set_label_coords(0.516, -0.194)
for ax, left, scale in [(axA, 128, 10.48), (axC, 118, 10.46)]:
    ax.set_ylabel(y_label, fontsize=FS)
    ax.yaxis.label.set_va('center')
    ax.yaxis.set_label_coords((22 - left) / (55 * scale), 0.5)

# legends
dot_style = (2.5, (1, 5.6))
def add_legend(ax, handles, labels, left_px, top_px, handlelen, spacing):
    ax.legend(handles, labels, loc='upper left',
              bbox_to_anchor=(left_px / W, 1 - top_px / H),
              bbox_transform=fig.transFigure, frameon=False,
              fontsize=FS, handlelength=handlelen, handletextpad=0.5,
              borderpad=0, borderaxespad=0, labelspacing=spacing)

add_legend(axA, [Line2D([], [], color='#C00000', lw=2.2)], [label_right_avg], 155, 57, 2.3, 0.2)
add_legend(axB, [Line2D([], [], color='#FF0000', lw=2.6, linestyle=dot_style),
                 Line2D([], [], color='#FFBFBF', lw=2.8)],
           [label_right_cond, label_right_rare], 831, 57, 2.45, 0.29)
add_legend(axC, [Line2D([], [], color='#0A55A3', lw=2.2)], [label_left_avg], 180, 642, 2.3, 0.2)
add_legend(axD, [Line2D([], [], color='#0000FF', lw=2.6, linestyle=dot_style),
                 Line2D([], [], color='#BFDDFB', lw=2.8)],
           [label_left_cond, label_left_rare], 826, 615, 2.45, 0.29)

# panel letters
for letter, (px, py) in {'A': (162, 24), 'B': (791, 56), 'C': (150, 631), 'D': (791, 606)}.items():
    fig.text(px / W, 1 - py / H, letter, fontsize=FS, fontweight='bold', ha='center', va='center')

# block arrows
def block_arrow(x_left, cy):
    pts = [(x_left, cy - 11), (x_left + 27, cy - 11), (x_left + 27, cy - 22),
           (x_left + 51, cy), (x_left + 27, cy + 22), (x_left + 27, cy + 11),
           (x_left, cy + 11)]
    poly = Polygon([(x / W, 1 - y / H) for x, y in pts], closed=True,
                   transform=fig.transFigure, facecolor='black', edgecolor='black')
    fig.patches.append(poly)

block_arrow(741, 301)
block_arrow(741, 852)

fig.savefig('out.png', dpi=100)
